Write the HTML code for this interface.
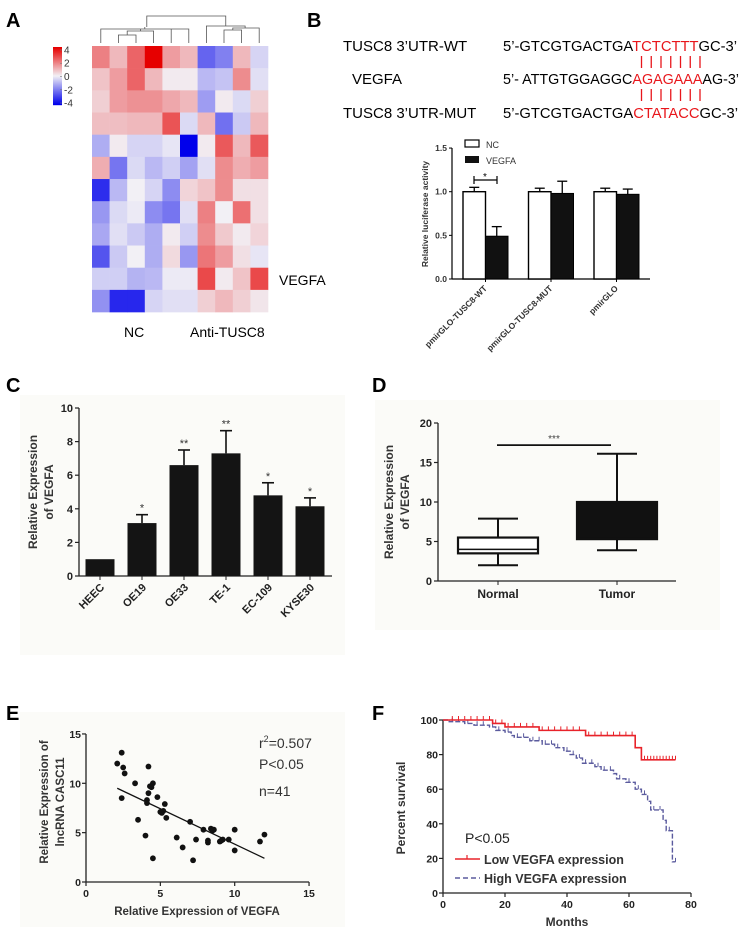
<!DOCTYPE html>
<html><head><meta charset="utf-8"><style>
html,body{margin:0;padding:0;background:#fff;width:744px;height:933px;overflow:hidden}
svg{display:block;font-family:"Liberation Sans",Arial,sans-serif}
</style></head><body>
<svg id="fig" width="744" height="933" viewBox="0 0 744 933">
<rect x="20" y="395" width="325" height="260" fill="#fbfbf8"/>
<rect x="375" y="400" width="345" height="230" fill="#fbfbf8"/>
<rect x="20" y="712" width="325" height="215" fill="#fbfbf8"/>
<g font-weight="bold" font-size="20">
<text x="6" y="27">A</text>
<text x="307" y="27">B</text>
<text x="6" y="392">C</text>
<text x="372" y="392">D</text>
<text x="6" y="720">E</text>
<text x="372" y="720">F</text>
</g>
<g id="A"></g>
<g id="Bseq">
<g font-size="15">
<text x="343" y="51">TUSC8 3’UTR-WT</text>
<text x="352" y="84">VEGFA</text>
<text x="343" y="118">TUSC8 3’UTR-MUT</text>
<text x="503" y="51" textLength="234" lengthAdjust="spacingAndGlyphs">5’-GTCGTGACTGA<tspan fill="#e8161b">TCTCTTT</tspan>GC-3’</text>
<text x="503" y="84" textLength="236" lengthAdjust="spacingAndGlyphs">5’- ATTGTGGAGGC<tspan fill="#e8161b">AGAGAAA</tspan>AG-3’</text>
<text x="503" y="118" textLength="235" lengthAdjust="spacingAndGlyphs">5’-GTCGTGACTGA<tspan fill="#e8161b">CTATACC</tspan>GC-3’</text>
</g>
<g id="pairs" stroke="#e8161b" stroke-width="1.3"></g>
</g>
<g id="B"></g>
<g id="C"></g>
<g id="D"></g>
<g id="E"></g>
<g id="F"></g>
</svg>
<script>
// ---- Panel A data ----
const heatRows = [
[2,1,2.5,4.3,1.5,1,-2.5,-2,1,-0.5],
[0.8,1.5,2.5,1,0.1,0.1,-1,-0.8,1.8,-0.3],
[0.6,1.5,1.7,1.7,1.3,1,-1.5,0.1,-0.4,0.6],
[0.9,0.9,1,1,2.8,-0.4,1,-2.3,-0.7,1],
[-1.2,0.1,-0.5,-0.5,-0.2,-4.3,0.1,2.7,1,2.7],
[1.2,-2.2,-0.4,-1,-0.6,-1.4,-0.3,1.8,1.2,1.5],
[-3.5,-1,0,-0.5,-1.8,0.5,0.8,1.8,0.3,0.3],
[-1.6,-0.4,-0.1,-1.8,-2.2,-0.3,2,0,2.3,0.3],
[-1.3,-0.3,-0.7,-1.2,0.1,-0.6,1.8,0.7,0.1,0.5],
[-2.8,-0.7,0,-1.2,0.4,-1.6,2.2,1.5,0.3,-0.2],
[-0.6,-0.6,-1.1,-1,-0.1,-0.1,3,0.1,0.8,3],
[-1.7,-3.6,-3.6,-0.5,-0.3,-0.3,0.6,1,0.6,0.2]];
const scaleTicks = [4,2,0,-2,-4];
// ---- Panel B data ----
const lucCats = ["pmirGLO-TUSC8-WT","pmirGLO-TUSC8-MUT","pmirGLO"];
const lucNC = [1,1,1];
const lucNCerr = [0.05,0.04,0.04];
const lucVEGFA = [0.49,0.98,0.97];
const lucVEGFAerr = [0.11,0.14,0.06];
const lucTicks = [0,0.5,1.0,1.5];
// ---- Panel C data ----
const cellCats = ["HEEC","OE19","OE33","TE-1","EC-109","KYSE30"];
const cellVals = [1,3.15,6.6,7.3,4.8,4.15];
const cellErr = [0,0.5,0.9,1.35,0.75,0.5];
const cellStars = ["","*","**","**","*","*"];
const cellTicks = [0,2,4,6,8,10];
// ---- Panel D data ----
const boxCats = ["Normal","Tumor"];
const boxMin = [2,3.9];
const boxQ1 = [3.5,5.3];
const boxMed = [4,5.4];
const boxQ3 = [5.5,10];
const boxMax = [7.9,16.1];
const boxTicks = [0,5,10,15,20];
// ---- Panel E data ----
const scatX = [2.1,2.4,2.5,2.6,2.4,3.3,3.5,4,4.1,4.1,4.2,4.2,4.4,4.5,4.5,4.8,5.1,5.2,5.3,5.4,6.1,6.5,7,7.2,7.4,7.9,8.2,8.2,8.4,8.6,9,9.2,9.6,10,10,11.7,12,4.3,5.0,8.5,9.1];
const scatY = [12,13.1,11.6,11,8.5,10,6.3,4.7,8.3,8,9,11.7,9.6,10,2.4,8.6,7,7.2,7.9,6.5,4.5,3.5,6.1,2.2,4.3,5.3,4.2,4,5.4,5.3,4.1,4.3,4.3,5.3,3.2,4.1,4.8,9.7,7.1,5.2,4.2];
const fitX = [2.1,12];
const fitY = [9.5,2.4];
const scatXTicks = [0,5,10,15];
const scatYTicks = [0,5,10,15];
// ---- Panel F data ----
const lowT = [0,16,20,31,46,62,64,75];
const lowS = [100,98,96,94,91,84,77,77];
const lowCens = [3,5,7,9,11,13,15,17,19,21,23,25,27,29,32,34,36,38,40,42,44,47,49,51,53,55,57,59,61,65,66,67,68,69,70,71,72,73,74,75];
const highT = [0,2,7,10,15,17,20,22,23,28,32,36,39,41,43,45,49,51,55,56,59,62,64,66,67,71,72,74,75];
const highS = [100,99,98,97,96,94,93,91,90,88,86,84,82,80,78,75,73,71,69,66,64,60,57,53,48,42,36,18,18];
const highCens = [3,5,8,11,13,16,18,21,24,26,29,31,33,35,37,40,42,44,46,48,50,52,54,57,60,63,65,68,70,73,75];
const survXTicks = [0,20,40,60,80];
const survYTicks = [0,20,40,60,80,100];

const NS="http://www.w3.org/2000/svg";
function mk(p,tag,at,txt){const e=document.createElementNS(NS,tag);for(const k in at)e.setAttribute(k,at[k]);if(txt!==undefined)e.textContent=txt;p.appendChild(e);return e;}
function heatColor(v){let t=Math.max(-1,Math.min(1,v/4.3));
 if(t>=0){return `rgb(${Math.round(242-12*t)},${Math.round(240-240*t)},${Math.round(245-245*t)})`;}
 t=-t;return `rgb(${Math.round(242-242*t)},${Math.round(240-240*t)},${Math.round(245-10*t)})`;}

// ===== A =====
(function(){const g=document.getElementById('A');
 const x0=92,y0=46,cw=17.6,ch=22.17;
 heatRows.forEach((row,r)=>row.forEach((v,c)=>{
  const e=mk(g,'rect',{x:x0+c*cw,y:y0+r*ch,width:cw+0.3,height:ch+0.3,fill:heatColor(v)});
  
  
 }));
 const cx=i=>x0+(i+0.5)*cw;
 const d=mk(g,'path',{d:`M${cx(1)},43V35H${cx(2)}V43 M${cx(1.5)-0.0},35V31H${cx(3)}V43 M${(cx(1.5)+cx(3))/2},31V29H${cx(4)}V43 M${cx(0)},43V29H${cx(5)}V43 M${cx(0)},29 M${(cx(0)+cx(5))/2},29V27 M${cx(7)},43V30H${cx(8)}V43 M${(cx(7)+cx(8))/2},30V28H${cx(9)}V43 M${cx(6)},43V26H${cx(8.2)}V28 M${(cx(0)+cx(5))/2+2},27V16H${(cx(6)+cx(8.2))/2}V26`,fill:'none',stroke:'#555','stroke-width':0.8});
 
 // colorbar
 for(let i=0;i<58;i++){const v=4.3-8.6*i/57;mk(g,'rect',{x:53,y:47+i,width:9,height:1.2,fill:heatColor(v)});}
 scaleTicks.forEach((t,i)=>{const y=48+(4.3-t)/8.6*57;
  mk(g,'line',{x1:60,x2:62,y1:y,y2:y,stroke:'#777','stroke-width':0.6});
  const e=mk(g,'text',{x:64,y:y+3.5,'font-size':10,fill:'#333'},String(t));
  });
 let e=mk(g,'text',{x:279,y:285,'font-size':14},'VEGFA');
 e=mk(g,'text',{x:124,y:337,'font-size':14},'NC');
 e=mk(g,'text',{x:190,y:337,'font-size':14},'Anti-TUSC8');
 const p=document.getElementById('pairs');
 for(let i=0;i<7;i++){const x=641.5+i*9.75;mk(p,'line',{x1:x,x2:x,y1:56,y2:68});mk(p,'line',{x1:x,x2:x,y1:89,y2:101});}
})();

// ===== B =====
(function(){const g=document.getElementById('B');
 const X0=452,Y0=279,k=87.3,y=v=>Y0-v*k;
 mk(g,'line',{x1:X0,x2:X0,y1:y(1.5),y2:Y0,stroke:'#000','stroke-width':1.2});
 mk(g,'line',{x1:X0,x2:650,y1:Y0,y2:Y0,stroke:'#000','stroke-width':1.2});
 lucTicks.forEach(t=>{mk(g,'line',{x1:X0-3,x2:X0,y1:y(t),y2:y(t),stroke:'#000'});
  const e=mk(g,'text',{x:X0-5,y:y(t)+3,'font-size':8.5,'font-weight':'bold','text-anchor':'end',fill:'#333'},t.toFixed(1));
  });
 const gw=65.5,bw=22.5;
 lucCats.forEach((c,i)=>{const gx=X0+11+i*gw;
  const hN=y(lucNC[i]),hV=y(lucVEGFA[i]);
  mk(g,'line',{x1:gx+bw/2,x2:gx+bw/2,y1:y(lucNC[i]+lucNCerr[i]),y2:hN,stroke:'#000','stroke-width':1.3});
  mk(g,'line',{x1:gx+bw/2-5,x2:gx+bw/2+5,y1:y(lucNC[i]+lucNCerr[i]),y2:y(lucNC[i]+lucNCerr[i]),stroke:'#000','stroke-width':1.3});
  let e=mk(g,'rect',{x:gx,y:hN,width:bw,height:Y0-hN,fill:'#fff',stroke:'#000','stroke-width':1.4});
  
  mk(g,'line',{x1:gx+bw*1.5,x2:gx+bw*1.5,y1:y(lucVEGFA[i]+lucVEGFAerr[i]),y2:hV,stroke:'#000','stroke-width':1.3});
  mk(g,'line',{x1:gx+bw*1.5-5,x2:gx+bw*1.5+5,y1:y(lucVEGFA[i]+lucVEGFAerr[i]),y2:y(lucVEGFA[i]+lucVEGFAerr[i]),stroke:'#000','stroke-width':1.3});
  e=mk(g,'rect',{x:gx+bw,y:hV,width:bw,height:Y0-hV,fill:'#111',stroke:'#000','stroke-width':1});
  
  mk(g,'line',{x1:gx+bw,x2:gx+bw,y1:Y0,y2:Y0+3,stroke:'#000'});
  e=mk(g,'text',{x:gx+bw+2,y:Y0+10,'font-size':8.5,'font-weight':'bold','text-anchor':'end',fill:'#333',transform:`rotate(-45 ${gx+bw+2} ${Y0+10})`},c);
  
 });
 mk(g,'path',{d:`M${X0+22},176V184M${X0+22},180H${X0+45}M${X0+45},176V184`,stroke:'#000','stroke-width':1.2,fill:'none'});
 mk(g,'text',{x:X0+33,y:180,'font-size':10,'text-anchor':'middle'},'*');
 mk(g,'rect',{x:465,y:140,width:14,height:7,fill:'#fff',stroke:'#000','stroke-width':1.2});
 mk(g,'rect',{x:465,y:156,width:14,height:7,fill:'#111'});
 let e=mk(g,'text',{x:486,y:148,'font-size':9,fill:'#333'},'NC');
 e=mk(g,'text',{x:486,y:164,'font-size':9,fill:'#333'},'VEGFA');
 e=mk(g,'text',{x:0,y:0,'font-size':8.5,'font-weight':'bold','text-anchor':'middle',fill:'#333',transform:'translate(428 214) rotate(-90)'},'Relative luciferase activity');
 
})();

// ===== C =====
(function(){const g=document.getElementById('C');
 const X0=79,Y0=576,k=16.8,y=v=>Y0-v*k;
 mk(g,'line',{x1:X0,x2:X0,y1:y(10),y2:Y0,stroke:'#222','stroke-width':1.3});
 mk(g,'line',{x1:X0,x2:332,y1:Y0,y2:Y0,stroke:'#222','stroke-width':1.3});
 cellTicks.forEach(t=>{mk(g,'line',{x1:X0-4,x2:X0,y1:y(t),y2:y(t),stroke:'#222','stroke-width':1.2});
  const e=mk(g,'text',{x:X0-6,y:y(t)+4,'font-size':11,'font-weight':'bold','text-anchor':'end',fill:'#222'},String(t));
  });
 cellCats.forEach((c,i)=>{const cx=100+i*42,bw=29;
  if(cellErr[i]>0){mk(g,'line',{x1:cx,x2:cx,y1:y(cellVals[i]+cellErr[i]),y2:y(cellVals[i]),stroke:'#111','stroke-width':1.6});
   mk(g,'line',{x1:cx-6,x2:cx+6,y1:y(cellVals[i]+cellErr[i]),y2:y(cellVals[i]+cellErr[i]),stroke:'#111','stroke-width':1.6});}
  let e=mk(g,'rect',{x:cx-bw/2,y:y(cellVals[i]),width:bw,height:cellVals[i]*k,fill:'#141414'});
  
  if(cellStars[i]){e=mk(g,'text',{x:cx,y:y(cellVals[i]+cellErr[i])-3,'font-size':11,'text-anchor':'middle',fill:'#333'},cellStars[i]);
   }
  mk(g,'line',{x1:cx,x2:cx,y1:Y0,y2:Y0+4,stroke:'#222'});
  e=mk(g,'text',{x:cx+5,y:Y0+12,'font-size':11,'font-weight':'bold','text-anchor':'end',fill:'#222',transform:`rotate(-45 ${cx+5} ${Y0+12})`},c);
  
 });
 const e=mk(g,'text',{x:0,y:0,'font-size':12,'font-weight':'bold','text-anchor':'middle',fill:'#333',transform:'translate(37 492) rotate(-90)'});
 mk(e,'tspan',{x:0,dy:0},'Relative Expression');mk(e,'tspan',{x:0,dy:16},'of VEGFA');
 
})();

// ===== D =====
(function(){const g=document.getElementById('D');
 const X0=438,Y0=581,k=7.9,y=v=>Y0-v*k;
 mk(g,'line',{x1:X0,x2:X0,y1:y(20),y2:Y0,stroke:'#222','stroke-width':1.3});
 mk(g,'line',{x1:X0,x2:676,y1:Y0,y2:Y0,stroke:'#222','stroke-width':1.3});
 boxTicks.forEach(t=>{mk(g,'line',{x1:X0-4,x2:X0,y1:y(t),y2:y(t),stroke:'#222','stroke-width':1.2});
  const e=mk(g,'text',{x:X0-6,y:y(t)+4,'font-size':11,'font-weight':'bold','text-anchor':'end',fill:'#222'},String(t));
  });
 boxCats.forEach((c,i)=>{const cx=498+i*119,hw=40,fill=i?'#111':'#fff';
  mk(g,'line',{x1:cx,x2:cx,y1:y(boxMax[i]),y2:y(boxMin[i]),stroke:'#111','stroke-width':2});
  mk(g,'line',{x1:cx-20,x2:cx+20,y1:y(boxMax[i]),y2:y(boxMax[i]),stroke:'#111','stroke-width':2});
  mk(g,'line',{x1:cx-20,x2:cx+20,y1:y(boxMin[i]),y2:y(boxMin[i]),stroke:'#111','stroke-width':2});
  let e=mk(g,'rect',{x:cx-hw,y:y(boxQ3[i]),width:2*hw,height:(boxQ3[i]-boxQ1[i])*k,fill:fill,stroke:'#111','stroke-width':2.2});
  
  mk(g,'line',{x1:cx-hw,x2:cx+hw,y1:y(boxMed[i]),y2:y(boxMed[i]),stroke:'#111','stroke-width':1.5});
  mk(g,'line',{x1:cx,x2:cx,y1:Y0,y2:Y0+4,stroke:'#222'});
  e=mk(g,'text',{x:cx,y:Y0+17,'font-size':12,'font-weight':'bold','text-anchor':'middle',fill:'#222'},c);
  
 });
 mk(g,'line',{x1:497,x2:611,y1:y(17.2),y2:y(17.2),stroke:'#111','stroke-width':1.8});
 mk(g,'text',{x:554,y:y(17.2)-3,'font-size':10,'text-anchor':'middle',fill:'#444'},'***');
 const e=mk(g,'text',{x:0,y:0,'font-size':12,'font-weight':'bold','text-anchor':'middle',fill:'#333',transform:'translate(393 502) rotate(-90)'});
 mk(e,'tspan',{x:0,dy:0},'Relative Expression');mk(e,'tspan',{x:0,dy:16},'of VEGFA');
 
})();

// ===== E =====
(function(){const g=document.getElementById('E');
 const X0=86,Y0=882,kx=14.87,ky=9.87,x=v=>X0+v*kx,y=v=>Y0-v*ky;
 mk(g,'line',{x1:X0,x2:X0,y1:y(15),y2:Y0,stroke:'#222','stroke-width':1.3});
 mk(g,'line',{x1:X0,x2:x(15),y1:Y0,y2:Y0,stroke:'#222','stroke-width':1.3});
 scatYTicks.forEach(t=>{mk(g,'line',{x1:X0-4,x2:X0,y1:y(t),y2:y(t),stroke:'#222','stroke-width':1.2});
  const e=mk(g,'text',{x:X0-5,y:y(t)+4,'font-size':10.5,'font-weight':'bold','text-anchor':'end',fill:'#222'},String(t));
  });
 scatXTicks.forEach(t=>{mk(g,'line',{x1:x(t),x2:x(t),y1:Y0,y2:Y0+4,stroke:'#222','stroke-width':1.2});
  const e=mk(g,'text',{x:x(t),y:Y0+15,'font-size':10.5,'font-weight':'bold','text-anchor':'middle',fill:'#222'},String(t));
  });
 scatX.forEach((v,i)=>{const e=mk(g,'circle',{cx:x(v),cy:y(scatY[i]),r:2.9,fill:'#111'});
  });
 let e=mk(g,'line',{x1:x(fitX[0]),x2:x(fitX[1]),y1:y(fitY[0]),y2:y(fitY[1]),stroke:'#111','stroke-width':1.3});
 
 e=mk(g,'text',{x:259,y:748,'font-size':14,fill:'#333'});mk(e,'tspan',{},'r');mk(e,'tspan',{dy:-6,'font-size':9},'2');mk(e,'tspan',{dy:6},'=0.507');
 
 e=mk(g,'text',{x:259,y:769,'font-size':14,fill:'#333'},'P<0.05');
 e=mk(g,'text',{x:259,y:796,'font-size':14,fill:'#333'},'n=41');
 e=mk(g,'text',{x:197,y:915,'font-size':11.5,'font-weight':'bold','text-anchor':'middle',fill:'#333'},'Relative Expression of VEGFA');
 
 e=mk(g,'text',{x:0,y:0,'font-size':11.5,'font-weight':'bold','text-anchor':'middle',fill:'#333',transform:'translate(48 802) rotate(-90)'});
 mk(e,'tspan',{x:0,dy:0},'Relative Expression of');mk(e,'tspan',{x:0,dy:16},'lncRNA CASC11');
 
})();

// ===== F =====
(function(){const g=document.getElementById('F');
 const X0=443,Y0=893,kx=3.1,ky=1.73,x=v=>X0+v*kx,y=v=>Y0-v*ky;
 mk(g,'line',{x1:X0,x2:X0,y1:y(100),y2:Y0,stroke:'#222','stroke-width':1.3});
 mk(g,'line',{x1:X0,x2:x(80),y1:Y0,y2:Y0,stroke:'#222','stroke-width':1.3});
 survYTicks.forEach(t=>{mk(g,'line',{x1:X0-4,x2:X0,y1:y(t),y2:y(t),stroke:'#222','stroke-width':1.2});
  const e=mk(g,'text',{x:X0-5,y:y(t)+4,'font-size':10.5,'font-weight':'bold','text-anchor':'end',fill:'#222'},String(t));
  });
 survXTicks.forEach(t=>{mk(g,'line',{x1:x(t),x2:x(t),y1:Y0,y2:Y0+4,stroke:'#222','stroke-width':1.2});
  const e=mk(g,'text',{x:x(t),y:Y0+15,'font-size':10.5,'font-weight':'bold','text-anchor':'middle',fill:'#222'},String(t));
  });
 function stepPath(T,S){let d=`M${x(T[0])},${y(S[0])}`;for(let i=1;i<T.length;i++){d+=`H${x(T[i])}V${y(S[i])}`;}return d;}
 function survAt(T,S,t){let s=S[0];for(let i=0;i<T.length;i++){if(T[i]<=t)s=S[i];}return s;}
 let e=mk(g,'path',{d:stepPath(highT,highS),fill:'none',stroke:'#5b5b9e','stroke-width':1.4,'stroke-dasharray':'5,2'});
 
 highCens.forEach(t=>{const s=survAt(highT,highS,t);mk(g,'line',{x1:x(t),x2:x(t),y1:y(s),y2:y(s)-4,stroke:'#5b5b9e','stroke-width':1});});
 e=mk(g,'path',{d:stepPath(lowT,lowS),fill:'none',stroke:'#e8232a','stroke-width':1.6});
 
 lowCens.forEach(t=>{const s=survAt(lowT,lowS,t);mk(g,'line',{x1:x(t),x2:x(t),y1:y(s),y2:y(s)-4,stroke:'#e8232a','stroke-width':1});});
 e=mk(g,'text',{x:465,y:843,'font-size':14,fill:'#222'},'P<0.05');
 mk(g,'line',{x1:455,x2:480,y1:859,y2:859,stroke:'#e8232a','stroke-width':1.6});
 mk(g,'line',{x1:467,x2:467,y1:859,y2:855,stroke:'#e8232a','stroke-width':1.2});
 mk(g,'line',{x1:455,x2:480,y1:878,y2:878,stroke:'#5b5b9e','stroke-width':1.4,'stroke-dasharray':'5,3'});
 e=mk(g,'text',{x:484,y:864,'font-size':12.5,'font-weight':'bold',fill:'#333'},'Low VEGFA expression');
 e=mk(g,'text',{x:484,y:883,'font-size':12.5,'font-weight':'bold',fill:'#333'},'High VEGFA expression');
 e=mk(g,'text',{x:567,y:926,'font-size':12,'font-weight':'bold','text-anchor':'middle',fill:'#333'},'Months');
 e=mk(g,'text',{x:0,y:0,'font-size':12,'font-weight':'bold','text-anchor':'middle',fill:'#333',transform:'translate(405 808) rotate(-90)'},'Percent survival');
 
})();
</script>
</body></html>
